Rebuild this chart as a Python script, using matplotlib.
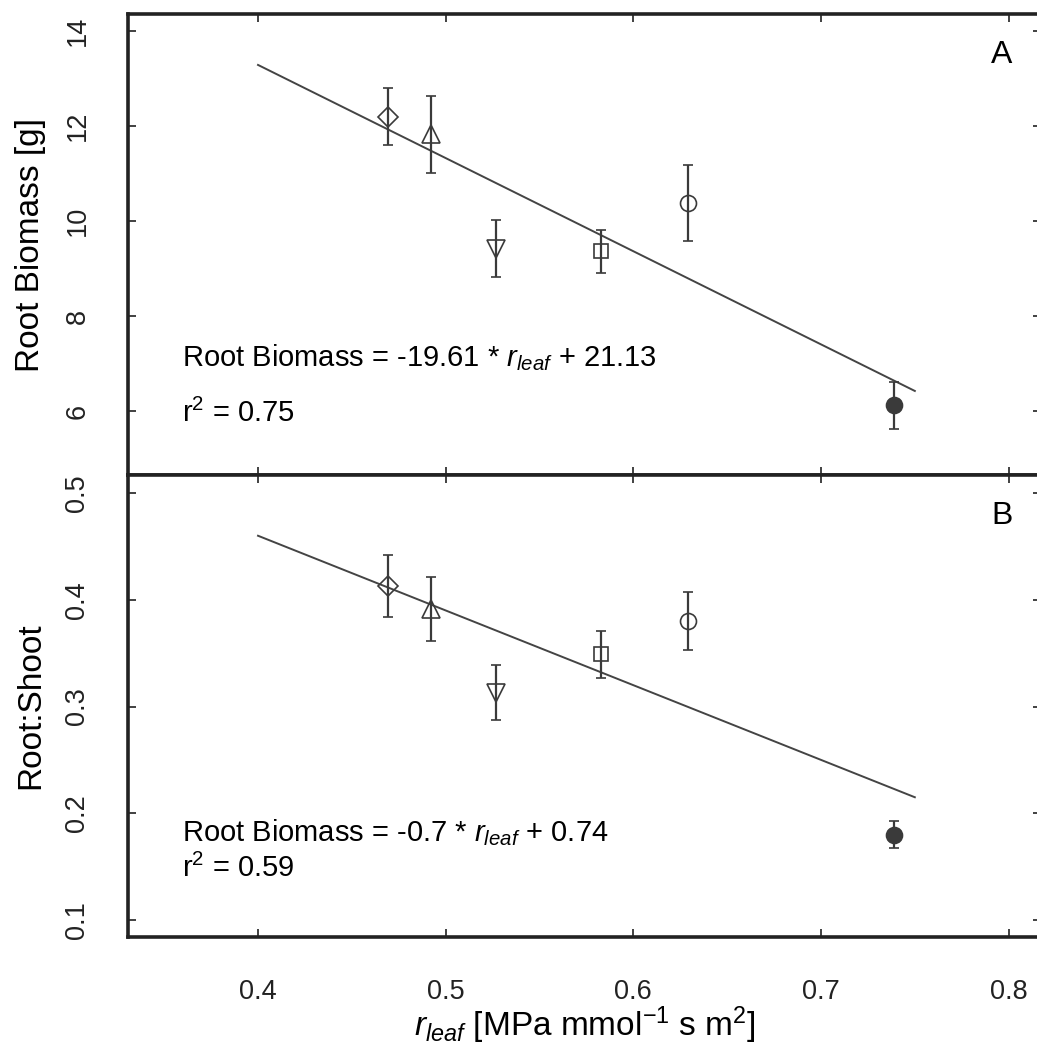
import matplotlib
matplotlib.use("Agg")
import matplotlib.pyplot as plt

plt.rcParams['font.family'] = ['Liberation Sans', 'DejaVu Sans']
plt.rcParams['mathtext.fontset'] = 'custom'
plt.rcParams['mathtext.rm'] = 'Liberation Sans'
plt.rcParams['mathtext.it'] = 'Liberation Sans:italic'

# data
r_leaf = [0.469, 0.492, 0.527, 0.583, 0.629, 0.739]
markers = ['D', '^', 'v', 's', 'o', 'o']
filled = [False, False, False, False, False, True]

biomass = [12.2, 11.83, 9.42, 9.36, 10.38, 6.12]
biomass_err = [0.6, 0.81, 0.6, 0.45, 0.8, 0.49]

root_shoot = [0.413, 0.391, 0.313, 0.349, 0.380, 0.180]
root_shoot_err = [0.029, 0.030, 0.026, 0.022, 0.027, 0.013]

fit_x = [0.4, 0.75]
fit_a = (-19.61, 21.13)
fit_b = (-0.7, 0.74)

grey = '#3a3a3a'
fs = 19.5

fig = plt.figure(figsize=(10.37, 10.53), dpi=100)
ax1 = fig.add_axes([0.1234, 0.5489, 0.8804, 0.4378])
ax2 = fig.add_axes([0.1234, 0.1102, 0.8804, 0.4387])

sizes = {'D': 10, '^': 13, 'v': 13, 's': 10, 'o': 11.5}


def draw_panel(ax, y, yerr, fit, ylim, yticks):
    for x, v, e, m, f in zip(r_leaf, y, yerr, markers, filled):
        ax.errorbar(x, v, yerr=e, fmt=m, ms=sizes[m], mfc=grey if f else 'none',
                    mec=grey, mew=1.2, ecolor=grey, elinewidth=1.6,
                    capsize=3.6, capthick=1.6, zorder=3)
    ax.plot(fit_x, [fit[0] * xx + fit[1] for xx in fit_x], color='#444444',
            lw=1.4, zorder=2)
    ax.set_xlim(0.3307, 0.8172)
    ax.set_ylim(*ylim)
    ax.set_yticks(yticks)
    ax.set_xticks([0.4, 0.5, 0.6, 0.7, 0.8])
    ax.tick_params(direction='in', length=6, width=1.3, colors='#333333',
                   top=True, right=True, labelsize=fs, labelcolor='#222222')
    ax.tick_params(axis='y', labelrotation=90, pad=27)
    for lbl in ax.get_yticklabels():
        lbl.set_va('center')
    for s in ax.spines.values():
        s.set_linewidth(2.6)
        s.set_color('#222222')


draw_panel(ax1, biomass, biomass_err, fit_a, (4.653, 14.358), [6, 8, 10, 12, 14])
draw_panel(ax2, root_shoot, root_shoot_err, fit_b, (0.0841, 0.5169),
           [0.1, 0.2, 0.3, 0.4, 0.5])

ax1.tick_params(labelbottom=False)
ax2.tick_params(axis='x', pad=30)

ax1.set_ylabel('Root Biomass [g]', fontsize=24, labelpad=13)
ax2.set_ylabel('Root:Shoot', fontsize=24, labelpad=13)
ax2.set_xlabel(r'$\it{r}_{\it{leaf}}$ [MPa mmol$^{-1}$ s m$^2$]',
               fontsize=24, labelpad=0)

ax1.text(0.802, 13.49, 'A', fontsize=23, ha='right', va='center')
ax2.text(0.802, 0.4785, 'B', fontsize=23, ha='right', va='center')

ax1.text(0.3595, 6.95, r'Root Biomass = -19.61 * $\it{r}_{\it{leaf}}$ + 21.13',
         fontsize=21, va='baseline')
ax1.text(0.3595, 5.77, r'r$^2$ = 0.75', fontsize=21, va='baseline')
ax2.text(0.3595, 0.174, r'Root Biomass = -0.7 * $\it{r}_{\it{leaf}}$ + 0.74',
         fontsize=21, va='baseline')
ax2.text(0.3595, 0.1403, r'r$^2$ = 0.59', fontsize=21, va='baseline')

fig.savefig('out.png', dpi=100)
